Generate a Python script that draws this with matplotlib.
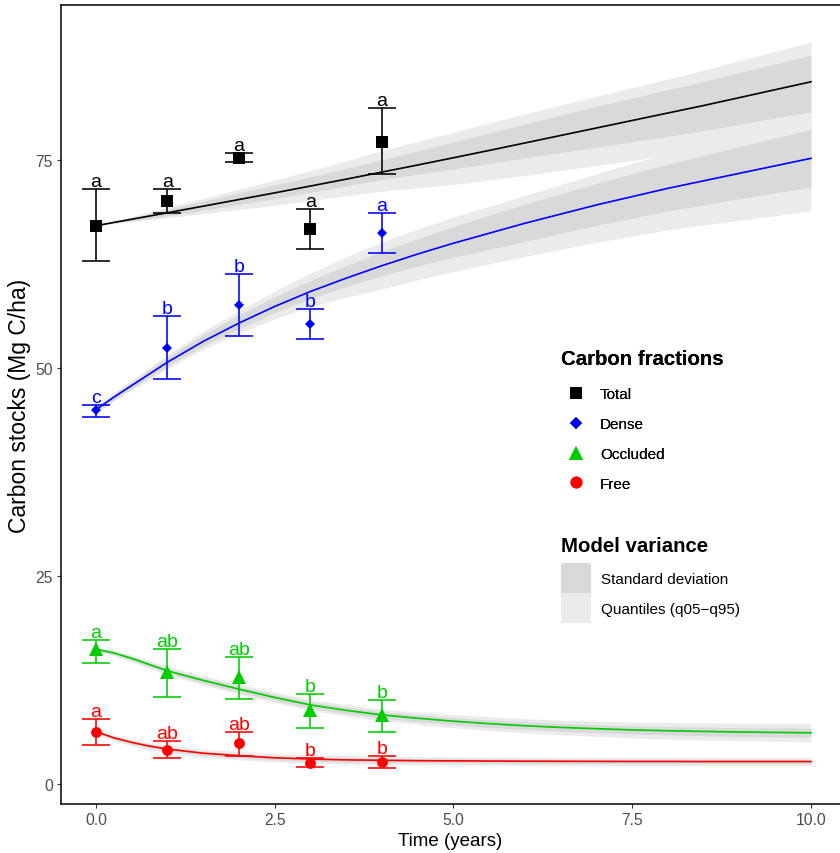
import matplotlib
matplotlib.use("Agg")
import matplotlib.pyplot as plt
from matplotlib.lines import Line2D
from matplotlib.patches import Patch
import numpy as np

plt.rcParams['font.family'] = ['Liberation Sans', 'DejaVu Sans']

# ---------------- data ----------------
fractions = ["Total", "Dense", "Occluded", "Free"]
colors = {"Total": "#000000", "Dense": "#0000FF", "Occluded": "#00CD00", "Free": "#FF0000"}
markers = {"Total": "s", "Dense": "D", "Occluded": "^", "Free": "o"}
msizes = {"Total": 8.2, "Dense": 5.6, "Occluded": 9.5, "Free": 7.8}

years = [0, 1, 2, 3, 4]
obs_total = [67.1, 70.1, 75.2, 66.7, 77.2]
obs_total_lo = [62.9, 68.6, 74.7, 64.3, 73.3]
obs_total_hi = [71.5, 71.5, 75.8, 69.1, 81.2]
obs_dense = [44.9, 52.4, 57.6, 55.3, 66.2]
obs_dense_lo = [44.15, 48.7, 53.8, 53.5, 63.8]
obs_dense_hi = [45.6, 56.2, 61.3, 57.1, 68.6]
obs_occl = [16.2, 13.5, 12.9, 8.9, 8.3]
obs_occl_lo = [14.6, 10.4, 10.2, 6.7, 6.3]
obs_occl_hi = [17.3, 16.2, 15.3, 10.8, 10.1]
obs_free = [6.3, 4.1, 4.9, 2.5, 2.6]
obs_free_lo = [4.7, 3.1, 3.4, 2.0, 1.9]
obs_free_hi = [7.8, 5.2, 6.3, 3.1, 3.4]

letters_total = ["a", "a", "a", "a", "a"]
letters_dense = ["c", "b", "b", "b", "a"]
letters_occl = ["a", "ab", "ab", "b", "b"]
letters_free = ["a", "ab", "ab", "b", "b"]

# model curves
t_model = [0, 0.25, 0.5, 0.75, 1, 1.5, 2, 2.5, 3, 3.5, 4, 4.5, 5, 5.5, 6, 6.5, 7, 7.5, 8, 8.5, 9, 9.5, 10]

mod_total = [67.1, 67.5, 67.88, 68.27, 68.66, 69.45, 70.25, 71.05, 71.87, 72.7, 73.55, 74.4,
             75.27, 76.15, 77.05, 77.95, 78.85, 79.75, 80.65, 81.55, 82.5, 83.45, 84.4]
total_sd_up = [0, .1, .2, .3, .4, .6, .8, .95, 1.1, 1.3, 1.5, 1.7, 1.9, 2.1, 2.3, 2.45, 2.6,
               2.7, 2.8, 2.9, 3.0, 3.1, 3.2]
total_sd_dn = [0, .1, .2, .28, .35, .5, .6, .7, .75, .8, .9, 1.1, 1.35, 1.55, 1.8, 2.05, 2.3,
               2.55, 2.8, 3.0, 3.2, 3.4, 3.6]
total_q_up = [0, .18, .35, .5, .65, .95, 1.25, 1.55, 1.85, 2.2, 2.6, 2.85, 3.05, 3.3, 3.5, 3.65,
              3.8, 3.95, 4.1, 4.25, 4.45, 4.6, 4.8]
total_q_dn = [0, .15, .3, .45, .6, .9, 1.2, 1.5, 1.75, 2.0, 2.3, 2.75, 3.2, 3.55, 3.9, 4.2, 4.5,
              4.8, 5.05, 5.35, 5.6, 5.9, 6.2]

mod_dense = [45.0, 46.5, 47.9, 49.3, 50.7, 53.2, 55.4, 57.4, 59.2, 60.8, 62.3, 63.7, 65.0, 66.2,
             67.4, 68.5, 69.6, 70.6, 71.6, 72.5, 73.4, 74.3, 75.2]
dense_sd_up = [.3, .37, .44, .52, .6, .78, .96, 1.14, 1.32, 1.5, 1.68, 1.84, 2.0, 2.15, 2.3, 2.45,
               2.6, 2.75, 2.9, 3.05, 3.2, 3.35, 3.5]
dense_sd_dn = [.3, .32, .35, .4, .45, .55, .65, .75, .85, 1.0, 1.2, 1.45, 1.7, 1.95, 2.2, 2.3, 2.45,
               2.6, 2.7, 2.9, 3.05, 3.25, 3.45]
dense_q_up = [.4, .52, .65, .78, .9, 1.2, 1.5, 1.85, 2.2, 2.55, 2.85, 3.0, 3.15, 3.25, 3.35, 3.55,
              3.75, 4.0, 4.25, 4.55, 4.9, 5.2, 5.5]
dense_q_dn = [.4, .47, .55, .65, .75, .95, 1.2, 1.5, 1.8, 2.3, 2.8, 3.1, 3.4, 3.7, 4.0, 4.25, 4.5,
              4.75, 5.0, 5.3, 5.65, 6.0, 6.3]

mod_occl = [16.2, 15.75, 15.1, 14.35, 13.6, 12.45, 11.4, 10.4, 9.5, 8.85, 8.3, 7.9, 7.55, 7.25,
            7.0, 6.8, 6.65, 6.5, 6.4, 6.32, 6.25, 6.2, 6.15]
occl_sd = [.15, .2, .25, .28, .3, .32, .35, .37, .38, .39, .4, .41, .42, .43, .45, .46, .47, .48,
           .5, .51, .52, .54, .55]
occl_q = [.25, .32, .4, .45, .5, .55, .6, .63, .65, .68, .7, .74, .78, .82, .85, .88, .92, .96,
          1.0, 1.03, 1.05, 1.08, 1.1]

mod_free = [6.3, 5.55, 5.0, 4.55, 4.2, 3.7, 3.4, 3.15, 3.0, 2.9, 2.85, 2.8, 2.78, 2.76, 2.74, 2.73,
            2.72, 2.71, 2.71, 2.7, 2.7, 2.7, 2.7]
free_sd = [.15, .17, .2, .21, .22, .24, .25, .25, .25, .25, .25, .25, .25, .25, .25, .25, .25, .25,
           .25, .25, .25, .25, .25]
free_q = [.3, .35, .4, .43, .45, .48, .5, .5, .5, .5, .5, .5, .5, .5, .5, .5, .5, .5, .5, .5, .5,
          .5, .5]

xticks = [0, 2.5, 5, 7.5, 10]
xticklabels = ["0.0", "2.5", "5.0", "7.5", "10.0"]
yticks = [0, 25, 50, 75]
yticklabels = ["0", "25", "50", "75"]

SD_COLOR = "#d9d9d9"
Q_COLOR = "#ebebeb"

# ---------------- figure ----------------
fig = plt.figure(figsize=(8.4, 8.54), dpi=100)
ax = fig.add_axes([61 / 840, (854 - 805) / 854, (840 - 61) / 840, (805 - 6) / 854])
ax.set_xlim(-0.4895, 10.406)
ax.set_ylim(-2.404, 93.63)

t = np.array(t_model)
models = [
    (mod_total, total_sd_up, total_sd_dn, total_q_up, total_q_dn, "Total"),
    (mod_dense, dense_sd_up, dense_sd_dn, dense_q_up, dense_q_dn, "Dense"),
    (mod_occl, occl_sd, occl_sd, occl_q, occl_q, "Occluded"),
    (mod_free, free_sd, free_sd, free_q, free_q, "Free"),
]
models = [tuple(np.array(a) for a in mdl[:5]) + (mdl[5],) for mdl in models]
for m, su, sd, qu, qd, name in models:
    ax.fill_between(t, m - qd, m + qu, color=Q_COLOR, lw=0, zorder=1)
for m, su, sd, qu, qd, name in models:
    ax.fill_between(t, m - sd, m + su, color=SD_COLOR, lw=0, zorder=2)
for m, su, sd, qu, qd, name in models:
    ax.plot(t, m, color=colors[name], lw=1.2, zorder=3, solid_joinstyle="round")

obs = [
    ("Total", obs_total, obs_total_lo, obs_total_hi, letters_total),
    ("Dense", obs_dense, obs_dense_lo, obs_dense_hi, letters_dense),
    ("Occluded", obs_occl, obs_occl_lo, obs_occl_hi, letters_occl),
    ("Free", obs_free, obs_free_lo, obs_free_hi, letters_free),
]
for name, v, lo, hi, lets in obs:
    v = np.array(v); lo = np.array(lo); hi = np.array(hi)
    c = colors[name]
    ax.errorbar(years, v, yerr=[v - lo, hi - v], fmt="none", ecolor=c,
                elinewidth=1.15, capsize=10, capthick=1.15, zorder=4)
    ax.plot(years, v, linestyle="none", marker=markers[name], markersize=msizes[name],
            color=c, markeredgewidth=0, zorder=5)
    for xi, hv, lt in zip(years, hi, lets):
        ax.annotate(lt, (xi, hv), xytext=(0, 3), textcoords="offset pixels",
                    ha="center", va="baseline", color=c, fontsize=14, zorder=6)

# axes styling
for s in ["left", "bottom", "top"]:
    ax.spines[s].set_linewidth(1.1)
    ax.spines[s].set_color("black")
ax.spines["right"].set_visible(False)
ax.set_xticks(xticks)
ax.set_xticklabels(xticklabels)
ax.set_yticks(yticks)
ax.set_yticklabels(yticklabels)
ax.tick_params(axis="both", length=3.2, width=0.8, color="#333333",
               labelcolor="#4D4D4D", labelsize=11.3, pad=2.5)
ax.set_xlabel("Time (years)", fontsize=13.5, labelpad=4)
ax.set_ylabel("Carbon stocks (Mg C/ha)", fontsize=16.5, labelpad=3)

# legends
fs = 11
handles1 = [Line2D([], [], linestyle="none", marker=markers[n], color=colors[n],
                   markersize=msizes[n] * 1.1, markeredgewidth=0) for n in fractions]
leg1 = fig.legend(handles1, fractions, loc="upper left",
                  bbox_to_anchor=(561 / 840, 1 - 350 / 854),
                  frameon=False, fontsize=fs, borderpad=0, borderaxespad=0,
                  handlelength=2.0, handletextpad=0.55, labelspacing=1.04,
                  title="Carbon fractions",
                  title_fontproperties={"weight": "bold", "size": 14.7},
                  alignment="left")
leg1._legend_box.sep = 13.8
handles2 = [Patch(facecolor=SD_COLOR, edgecolor="none"),
            Patch(facecolor=Q_COLOR, edgecolor="none")]
leg2 = fig.legend(handles2, ["Standard deviation", "Quantiles (q05\u2212q95)"],
                  loc="upper left", bbox_to_anchor=(561 / 840, 1 - 537 / 854),
                  frameon=False, fontsize=fs, borderpad=0, borderaxespad=0,
                  handlelength=1.96, handleheight=2.645, handletextpad=0.65,
                  labelspacing=0.0, title="Model variance",
                  title_fontproperties={"weight": "bold", "size": 14.7},
                  alignment="left")
leg2._legend_box.sep = 5.8
fig.add_artist(leg1)

fig.savefig("out.png", dpi=100)
